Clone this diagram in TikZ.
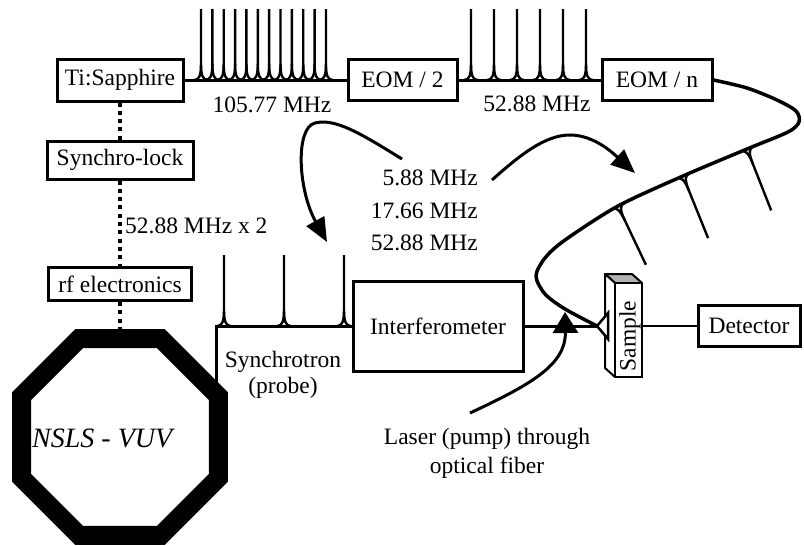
\documentclass[tikz,border=0pt]{standalone}
\usepackage{fontspec}
\setmainfont{Liberation Serif}
\usetikzlibrary{arrows.meta,calc}
\newcommand\dfont{\fontsize{23.5}{30}\selectfont}
\newcommand\nslsfont{\fontsize{28}{34}\selectfont\itshape}
\tikzset{
  box/.style={draw, line width=3pt, fill=white, inner sep=0pt, font=\dfont},
  lbl/.style={inner sep=0pt, font=\dfont},
  beam/.style={line width=3pt},
  dotline/.style={line width=4pt, dash pattern=on 4pt off 4.3pt},
  pulseline/.style={line width=2.4pt, line join=round},
  bigarrow/.style={line width=3pt, -{Triangle[length=24pt,width=20pt]}},
  laserarrow/.style={line width=3pt, -{Triangle[length=21pt,width=25pt]}},
  fiber/.style={line width=3.5pt, line join=round},
  pics/pulse/.style={code={
    \draw[pulseline] (-7,0) .. controls (-2,0) and (0,-4) .. (0,-16) -- (0,-#1);
    \draw[pulseline] (7,0) .. controls (2,0) and (0,-4) .. (0,-16);
  }},
}
\begin{document}
\begin{tikzpicture}[x=1pt,y=-1pt]
\useasboundingbox (0,0) rectangle (804,546);

% top row
\node[box, minimum width=126, minimum height=42] (ti) at (120,80) {Ti:Sapphire};
\node[box, minimum width=109, minimum height=41] (eomtwo) at (402.5,80) {EOM / 2};
\node[box, minimum width=110, minimum height=41] (eomn) at (657,80) {EOM / n};
\draw[beam] (ti.east) -- (eomtwo.west);
\draw[beam] (eomtwo.east) -- (eomn.west);
\foreach \i in {0,...,11} \pic at ({201+11.36*\i},80) {pulse=71};
\foreach \i in {0,...,5} \pic at ({471+23*\i},80) {pulse=71};
\node[lbl, anchor=base] (fa) at (272,112) {105.77 MHz};
\node[lbl, anchor=base] (fb) at (537,111) {52.88 MHz};

% left column
\node[box, minimum width=146, minimum height=38] (sync) at (120,160) {Synchro-lock};
\node[box, minimum width=143, minimum height=33] (rf) at (120,284) {rf electronics};
\coordinate (oc) at (120,437);
\coordinate (octtop) at (120,329);
\draw[dotline] (ti.south) -- (sync.north);
\draw[dotline] (sync.south) -- (rf.north);
\draw[dotline] (rf.south) -- (octtop);
\node[lbl, anchor=base west] (fx) at (125,233) {52.88 MHz x 2};

% synchrotron / interferometer
\node[box, minimum width=170, minimum height=90] (interf) at (438,326) {Interferometer};
\coordinate (synbl) at (216,392);
\coordinate (syntl) at (216,326);
\draw[beam] (synbl) -- (syntl) -- (interf.west);
\foreach \x in {224,284,344} \pic at (\x,326) {pulse=71};
\node[lbl, anchor=base] (synlbl) at (283,367) {Synchrotron};
\node[lbl, anchor=base] (probelbl) at (283,393) {(probe)};

% octagon ring
\draw[line width=19pt] ($(oc)+(22.5:106.6)$)
  \foreach \k in {1,...,7} { -- ($(oc)+(22.5+45*\k:106.6)$) } -- cycle;
\node[inner sep=0pt, font=\nslsfont, anchor=base west] (nsls) at (32,447) {NSLS - VUV};

% sample and detector
\node[box, minimum width=102, minimum height=41] (det) at (749,326) {Detector};
\coordinate (samplein) at (605,326);
\draw[beam] (interf.east) -- (samplein);
\fill[gray!60] (605,274) -- (632,274) -- (642,283) -- (615,283) -- cycle;
\draw[line width=2pt, line join=round] (605,274) -- (632,274) -- (642,283) -- (615,283) -- cycle;
\draw[line width=2pt, fill=white, line join=round] (605,274) -- (615,283) -- (615,377) -- (605,368) -- cycle;
\node[draw, line width=2pt, fill=white, minimum width=27, minimum height=94, inner sep=0pt] (sample) at (628.5,330) {};
\node[lbl, rotate=90] (samplelbl) at (630,336) {Sample};
\draw[line width=2.5pt] (sample.east |- det.west) -- (det.west);

% fiber
\coordinate (apex) at (597,326);
\draw[fiber] plot[smooth, tension=0.5] coordinates {(eomn.east) (747,88) (777,100) (796,111) (799,122) (788,132) (747,149) (683,176) (618,206) (565,240) (545,258) (536,276) (545,294) (565,309) (apex)};
\pic[rotate=-154.6] at (618,206) {pulse=65};
\pic[rotate=-158] at (683,176) {pulse=67};
\pic[rotate=-158.5] at (747,149) {pulse=66};
\draw[line width=2.5pt, fill=white, line join=miter] (apex) -- (608,313) -- (608,339) -- cycle;

% frequency labels and arrows
\node[lbl, anchor=base east] (f1) at (478,185) {5.88 MHz};
\node[lbl, anchor=base east] (f2) at (478,218) {17.66 MHz};
\node[lbl, anchor=base east] (f3) at (478,250) {52.88 MHz};
\coordinate (a1s) at (402,159);
\coordinate (a1e) at (327,242);
\draw[bigarrow] (a1s) .. controls (360,133) and (335,118) .. (315,123) .. controls (295,128) and (298,190) .. (a1e);
\coordinate (a2s) at (492,180);
\coordinate (a2e) at (635,173);
\draw[bigarrow] (a2s) .. controls (520,155) and (545,135) .. (570,135) .. controls (595,135) and (615,155) .. (a2e);

% laser
\coordinate (a3s) at (470,413);
\coordinate (a3e) at (565,312);
\draw[laserarrow] (a3s) .. controls (530,385) and (566,365) .. (a3e);
\node[lbl, anchor=base] (laser1) at (487,444) {Laser (pump) through};
\node[lbl, anchor=base] (laser2) at (487,473) {optical fiber};
\end{tikzpicture}
\end{document}
